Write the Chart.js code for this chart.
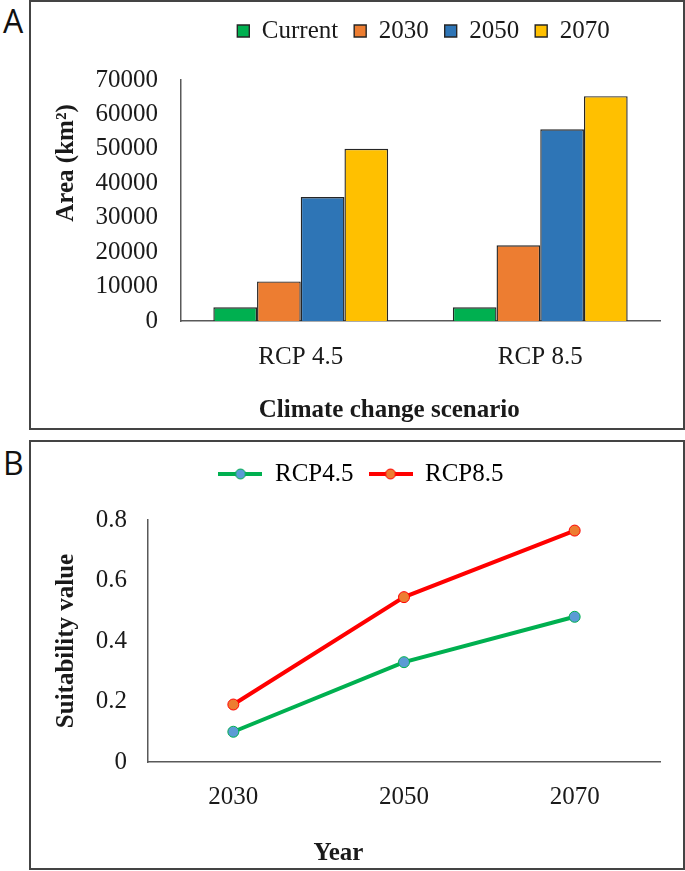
<!DOCTYPE html>
<html>
<head>
<meta charset="utf-8">
<script src="https://cdn.jsdelivr.net/npm/chart.js@4.4.1/dist/chart.umd.min.js"></script>
<style>
  body { margin: 0; background: #fff; width: 685px; height: 871px; position: relative; overflow: hidden; }
  .box { position: absolute; left: 29px; width: 656px; height: 430px; border: 2px solid #444; box-sizing: border-box; }
  .tag { position: absolute; left: 3px; font: 32px 'Open Sans', sans-serif; color: #111; line-height: 1; }
  canvas { position: absolute; }
</style>
</head>
<body>
<div class="box" style="top:0"></div>
<div class="box" style="top:440px"></div>
<div class="tag" style="top:5px">A</div>
<div class="tag" style="top:447px">B</div>
<canvas id="chartA" width="654" height="429" style="left:30px;top:0"></canvas>
<canvas id="chartB" width="654" height="429" style="left:30px;top:441px"></canvas>
<script>
// ---------------- data ----------------
const scenarios = ["RCP 4.5", "RCP 8.5"];
const periods = ["Current", "2030", "2050", "2070"];
const areaCurrent = [4000, 4000];
const area2030 = [11500, 22000];
const area2050 = [36000, 55700];
const area2070 = [50000, 65300];
const barColors = ["#00B050", "#ED7D31", "#2E75B6", "#FFC000"];

const years = ["2030", "2050", "2070"];
const rcp45 = [0.10, 0.33, 0.48];
const rcp85 = [0.19, 0.545, 0.765];

// ---------------- common ----------------
const serif = "'Liberation Serif', 'Times New Roman', serif";
const ink = "#1a1a1a";
const axisLine = "#595959";

// legend: fixed height, and moved sideways (over plot area if onArea)
function fixLegend(h, onArea, dx) {
  return {
    id: "fixLegend",
    beforeLayout(chart) {
      const lg = chart.legend;
      if (lg && !lg.patched) {
        const fit = lg.fit;
        lg.fit = function () { fit.call(this); this.height = h; };
        lg.patched = true;
      }
    },
    afterLayout(chart) {
      const lg = chart.legend;
      if (onArea) {
        lg.left = chart.chartArea.left;
        lg.right = chart.chartArea.right;
      }
      lg.left += dx;
      lg.right += dx;
    }
  };
}

function legendLine(lineColor, dotColor) {
  const c = document.createElement("canvas");
  c.width = 44; c.height = 14;
  const g = c.getContext("2d");
  g.strokeStyle = lineColor; g.lineWidth = 4;
  g.beginPath(); g.moveTo(0, 7); g.lineTo(44, 7); g.stroke();
  g.fillStyle = dotColor; g.strokeStyle = lineColor; g.lineWidth = 1;
  g.beginPath(); g.arc(22, 7, 5, 0, Math.PI * 2); g.fill(); g.stroke();
  return c;
}

// ---------------- chart A : bars ----------------
const areaSeries = [areaCurrent, area2030, area2050, area2070];
new Chart(document.getElementById("chartA"), {
  type: "bar",
  data: {
    labels: scenarios,
    datasets: periods.map((p, i) => ({
      label: p,
      data: areaSeries[i],
      backgroundColor: barColors[i],
      borderColor: "#262626",
      borderWidth: 1.4,
      categoryPercentage: 0.73,
      barPercentage: 1
    }))
  },
  options: {
    responsive: false,
    animation: false,
    layout: { padding: { top: 2.5, right: 24, bottom: 0, left: 0 } },
    plugins: {
      tooltip: { enabled: false },
      legend: {
        labels: {
          boxWidth: 12, boxHeight: 12, padding: 16, color: ink,
          font: { family: serif, size: 25 }
        }
      }
    },
    scales: {
      x: {
        grid: { display: false },
        border: { color: axisLine, width: 1.5 },
        ticks: { color: ink, padding: 13, font: { family: serif, size: 25 } },
        title: {
          display: true, text: "Climate change scenario          ", color: ink,
          padding: { top: 0, bottom: 3 },
          font: { family: serif, size: 25, weight: "bold" }
        },
        afterFit: s => { s.height = 108; }
      },
      y: {
        min: 0, max: 70000,
        grid: { display: false },
        border: { color: axisLine, width: 1.5 },
        ticks: { stepSize: 10000, color: ink, padding: 15, font: { family: serif, size: 25 }, callback: v => String(v) },
        title: {
          display: true, text: "            Area (km²)", color: ink,
          padding: { top: 22, bottom: 0 },
          font: { family: serif, size: 25, weight: "bold" }
        },
        afterFit: s => { s.width = 151; }
      }
    }
  },
  plugins: [fixLegend(77.5, true, 3)]
});

// ---------------- chart B : lines ----------------
const lineColors = ["#00B050", "#FF0000"];
const dotColors = ["#5B9BD5", "#ED7D31"];
const legendImgs = [legendLine(lineColors[0], dotColors[0]), legendLine(lineColors[1], dotColors[1])];

new Chart(document.getElementById("chartB"), {
  type: "line",
  data: {
    labels: years,
    datasets: [
      { label: "RCP4.5", data: rcp45 },
      { label: "RCP8.5", data: rcp85 }
    ].map((d, i) => Object.assign(d, {
      borderColor: lineColors[i],
      borderWidth: 4,
      pointRadius: 5.5,
      pointBorderWidth: 1,
      pointBackgroundColor: dotColors[i],
      pointBorderColor: lineColors[i],
      tension: 0
    }))
  },
  options: {
    responsive: false,
    animation: false,
    layout: { padding: { top: 5.5, right: 24, bottom: 0, left: 0 } },
    plugins: {
      tooltip: { enabled: false },
      legend: {
        labels: {
          usePointStyle: true, pointStyleWidth: 44, padding: 15, color: ink,
          font: { family: serif, size: 25 },
          generateLabels: chart => chart.data.datasets.map((ds, i) => ({
            text: ds.label, pointStyle: legendImgs[i], datasetIndex: i,
            fillStyle: dotColors[i], strokeStyle: lineColors[i], lineWidth: 0, hidden: false
          }))
        }
      }
    },
    scales: {
      x: {
        offset: true,
        grid: { display: false },
        border: { color: axisLine, width: 1.5 },
        ticks: { color: ink, padding: 12, font: { family: serif, size: 25 } },
        title: {
          display: true, text: "Year                     ", color: ink,
          padding: { top: 0, bottom: 1 },
          font: { family: serif, size: 25, weight: "bold" }
        },
        afterFit: s => { s.height = 108; }
      },
      y: {
        min: 0, max: 0.8,
        grid: { display: false },
        border: { color: axisLine, width: 1.5 },
        ticks: { stepSize: 0.2, color: ink, padding: 13, font: { family: serif, size: 25 }, callback: v => String(Math.round(v * 10) / 10) },
        title: {
          display: true, text: "Suitability value", color: ink,
          padding: { top: 22, bottom: 0 },
          font: { family: serif, size: 25, weight: "bold" }
        },
        afterFit: s => { s.width = 118; }
      }
    }
  },
  plugins: [fixLegend(73.5, false, 16)]
});
</script>
</body>
</html>
